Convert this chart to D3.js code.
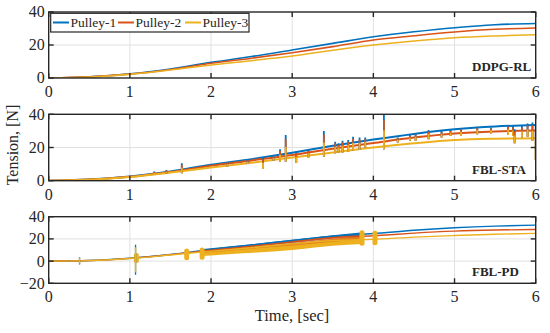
<!DOCTYPE html>
<html lang="en">
<head>
<meta charset="utf-8">
<script src="https://d3js.org/d3.v7.min.js"></script>
<style>
  body { margin: 0; background: #fff; }
  svg, svg text { font-family: "Times New Roman", "Liberation Serif", Tinos, serif; }
  text { fill: #262626; }
</style>
</head>
<body>
<script>
// Time samples shared by all smooth curves.
var times = [0, 0.5, 1, 1.5, 2, 2.5, 3, 3.5, 4, 4.5, 5, 5.5, 6];
var xTicks = [0, 1, 2, 3, 4, 5, 6];
var seriesNames = ["Pulley-1", "Pulley-2", "Pulley-3"];
var colors = ["#0072BD", "#D95319", "#EDB120"];

// DDPG-RL tensions.
var ddpg1 = [0, 0.7, 2.5, 5.5, 9.5, 13, 17, 21, 25, 28, 30.5, 32.3, 33];
var ddpg2 = [0, 0.7, 2.4, 5.2, 8.9, 12, 15.3, 19, 23, 25.6, 27.9, 29.5, 30.3];
var ddpg3 = [0, 0.6, 2.2, 4.8, 7.9, 10.5, 13.3, 16.8, 20, 22.4, 24.4, 25.5, 26.2];

// FBL-STA tensions and the spikes on them.
var sta1 = [0, 0.7, 2.6, 5.6, 9.6, 13, 16.8, 21, 24.8, 28.2, 31, 32.7, 33.5];
var sta2 = [0, 0.7, 2.4, 5.3, 9, 12.2, 15.5, 19.3, 22.7, 26, 28.5, 29.7, 30.2];
var sta3 = [0, 0.6, 2.2, 4.9, 8, 10.8, 14, 17, 20, 22.5, 24.5, 25.3, 25.6];
var staSpikeT  = [1.3, 1.45, 1.64, 2.2, 2.45, 2.64, 2.77, 2.85, 2.92, 3.05, 3.2, 3.39, 3.53, 3.57, 3.62, 3.69, 3.75, 3.83, 3.9, 4.13, 4.3, 4.45, 4.52, 4.68, 4.84, 4.95, 5.08, 5.28, 5.45, 5.66, 5.72, 5.74, 5.83, 5.9, 5.96, 6.0];
var staSpikeLo = [3.5, 4.2, 4.5, 8.5, 10, 7, 12, 11.4, 11.5, 10.7, 14, 14.5, 16.5, 17, 17, 17.5, 18, 18.5, 20, 19, 23, 24, 24, 25, 26, 27, 27, 28, 28.5, 27.5, 27, 22.5, 26, 26.5, 24, 12.5];
var staSpikeHi = [5.5, 6.5, 10.5, 11, 12.5, 14, 15, 19, 27.5, 17.5, 18.5, 30, 23.5, 22.5, 24, 24.5, 26.5, 26, 26, 39.6, 26, 27.5, 28.5, 30.5, 30, 30.5, 31.5, 32.5, 32, 33.5, 33, 31, 33, 34.5, 35, 33];

// FBL-PD tensions, oscillation bands, spikes and blobs.
var pd1 = [0, 0.5, 2.6, 6, 10.5, 14.5, 18.5, 22.5, 24.8, 27.8, 30, 31.5, 32.4];
var pd2 = [0, 0.5, 2.5, 5.8, 9.8, 13.5, 17.3, 21, 22.8, 25.2, 27, 28, 28.5];
var pd3 = [0, 0.4, 2.3, 5.5, 9, 12, 15.5, 18.5, 19.6, 21.6, 23, 24.2, 25];
var bandT   = [1.9, 2.4, 3.0, 3.5, 3.87];
var band1Lo = [9.5, 12.5, 16.5, 20.5, 23];
var band1Hi = [11, 14.5, 19.2, 23.3, 26];
var band2Lo = [7.5, 10.5, 14, 17.5, 20];
var band2Hi = [10.5, 14, 18.3, 22.3, 25];
var band3Lo = [4.5, 7, 10, 13.8, 15.5];
var band3Hi = [9.5, 12.5, 16, 20, 23];
var pdSpikeT  = [0.25, 0.38, 1.07];
var pdSpikeLo = [-0.8, -3, -12.3];
var pdSpikeHi = [1, 3.5, 14.7];
var pdBlobT  = [1.08, 1.7, 1.89, 3.86, 4.02];
var pdBlobLo = [0.5, 3, 3.5, 16, 16.5];
var pdBlobHi = [5, 9, 10, 25.5, 25];

var W = 550, H = 333;
var svg = d3.select("body").append("svg").attr("width", W).attr("height", H);

var x = d3.scaleLinear().domain([0, 6]).range([48.7, 535.7]);

var panels = [
  { id: "p1", top: 12, bottom: 78, domain: [0, 40], ticks: [0, 20, 40], label: "DDPG-RL",
    lines: [ddpg1, ddpg2, ddpg3], width: 1.6 },
  { id: "p2", top: 114.3, bottom: 180.7, domain: [0, 40], ticks: [0, 20, 40], label: "FBL-STA",
    lines: [sta1, sta2, sta3], width: 2 },
  { id: "p3", top: 216.7, bottom: 283.3, domain: [-20, 40], ticks: [-20, 0, 20, 40], label: "FBL-PD",
    lines: [pd1, pd2, pd3], width: 1.4 }
];

var lineGen = d3.line().curve(d3.curveMonotoneX);

panels.forEach(function(p) {
  var y = d3.scaleLinear().domain(p.domain).range([p.bottom, p.top]);
  var g = svg.append("g");

  // grid
  g.selectAll(".gx").data(xTicks.slice(1, -1)).enter().append("line")
    .attr("x1", function(d) { return x(d); }).attr("x2", function(d) { return x(d); })
    .attr("y1", p.top).attr("y2", p.bottom)
    .attr("stroke", "#e1e1e1").attr("stroke-width", 1);
  g.selectAll(".gy").data(p.ticks.slice(1, -1)).enter().append("line")
    .attr("x1", x(0)).attr("x2", x(6))
    .attr("y1", function(d) { return y(d); }).attr("y2", function(d) { return y(d); })
    .attr("stroke", "#e1e1e1").attr("stroke-width", 1);

  // clip
  svg.append("clipPath").attr("id", "clip-" + p.id).append("rect")
    .attr("x", x(0)).attr("y", p.top).attr("width", x(6) - x(0)).attr("height", p.bottom - p.top);
  var plot = g.append("g").attr("clip-path", "url(#clip-" + p.id + ")");

  // FBL-PD oscillation bands sit under the lines
  if (p.id === "p3") {
    var bands = [[band1Lo, band1Hi], [band3Lo, band3Hi], [band2Lo, band2Hi]];
    var bandColors = [colors[0], colors[2], colors[1]];
    bands.forEach(function(b, k) {
      var area = d3.area().curve(d3.curveMonotoneX)
        .x(function(d, i) { return x(bandT[i]); })
        .y0(function(d, i) { return y(b[0][i]); })
        .y1(function(d, i) { return y(b[1][i]); });
      plot.append("path").datum(bandT).attr("d", area)
        .attr("fill", bandColors[k]).attr("fill-opacity", k === 2 ? 0.55 : 1)
        .attr("stroke", "none");
    });
  }

  p.lines.forEach(function(vals, k) {
    plot.append("path")
      .attr("d", lineGen(times.map(function(t, i) { return [x(t), y(vals[i])]; })))
      .attr("fill", "none").attr("stroke", colors[k]).attr("stroke-width", p.width);
  });

  if (p.id === "p2") {
    staSpikeT.forEach(function(t, i) {
      var lo = staSpikeLo[i], hi = staSpikeHi[i], r = hi - lo;
      var segs = [[lo, hi], [lo, hi - 0.15 * r], [lo, hi - 0.45 * r]];
      segs.forEach(function(s, k) {
        plot.append("line").attr("x1", x(t)).attr("x2", x(t))
          .attr("y1", y(s[0])).attr("y2", y(s[1]))
          .attr("stroke", colors[k]).attr("stroke-width", 1.8);
      });
    });
  }

  if (p.id === "p3") {
    pdBlobT.forEach(function(t, i) {
      plot.append("line").attr("x1", x(t)).attr("x2", x(t))
        .attr("y1", y(pdBlobLo[i])).attr("y2", y(pdBlobHi[i]))
        .attr("stroke", colors[2]).attr("stroke-width", 5).attr("stroke-linecap", "round");
    });
    pdSpikeT.forEach(function(t, i) {
      plot.append("line").attr("x1", x(t)).attr("x2", x(t))
        .attr("y1", y(pdSpikeLo[i])).attr("y2", y(pdSpikeHi[i]))
        .attr("stroke", colors[0]).attr("stroke-width", 1.3);
      var r = pdSpikeHi[i] - pdSpikeLo[i];
      plot.append("line").attr("x1", x(t)).attr("x2", x(t))
        .attr("y1", y(pdSpikeLo[i] + 0.08 * r)).attr("y2", y(pdSpikeHi[i] - 0.08 * r))
        .attr("stroke", colors[2]).attr("stroke-width", 1.5);
    });
  }

  // frame
  g.append("rect").attr("x", x(0)).attr("y", p.top)
    .attr("width", x(6) - x(0)).attr("height", p.bottom - p.top)
    .attr("fill", "none").attr("stroke", "#262626").attr("stroke-width", 1.4);

  // inward ticks on all sides
  var tl = 5;
  xTicks.forEach(function(t) {
    g.append("line").attr("x1", x(t)).attr("x2", x(t)).attr("y1", p.bottom).attr("y2", p.bottom - tl)
      .attr("stroke", "#262626").attr("stroke-width", 1.4);
    g.append("line").attr("x1", x(t)).attr("x2", x(t)).attr("y1", p.top).attr("y2", p.top + tl)
      .attr("stroke", "#262626").attr("stroke-width", 1.4);
  });
  p.ticks.forEach(function(v) {
    g.append("line").attr("x1", x(0)).attr("x2", x(0) + tl).attr("y1", y(v)).attr("y2", y(v))
      .attr("stroke", "#262626").attr("stroke-width", 1.4);
    g.append("line").attr("x1", x(6)).attr("x2", x(6) - tl).attr("y1", y(v)).attr("y2", y(v))
      .attr("stroke", "#262626").attr("stroke-width", 1.4);
  });

  // tick labels
  g.selectAll(".xl").data(xTicks).enter().append("text")
    .attr("x", function(d) { return x(d); }).attr("y", p.bottom + 19)
    .attr("text-anchor", "middle").attr("font-size", 16)
    .text(function(d) { return d; });
  g.selectAll(".yl").data(p.ticks).enter().append("text")
    .attr("x", x(0) - 4).attr("y", function(d) { return y(d); })
    .attr("dy", "0.34em").attr("text-anchor", "end").attr("font-size", 16)
    .text(function(d) { return d < 0 ? "\u2212" + Math.abs(d) : d; });

  // panel label
  g.append("text").attr("x", 472).attr("y", p.bottom - 7)
    .attr("font-size", 13).attr("font-weight", "bold").attr("fill", "#111")
    .text(p.label);
});

// legend in top panel
var leg = svg.append("g");
leg.append("rect").attr("x", 50.7).attr("y", 13.3).attr("width", 198.3).attr("height", 18.7)
  .attr("fill", "#fff").attr("stroke", "#262626").attr("stroke-width", 1.2);
var legX = [53, 118, 185];
seriesNames.forEach(function(name, k) {
  leg.append("line").attr("x1", legX[k]).attr("x2", legX[k] + 16).attr("y1", 22.5).attr("y2", 22.5)
    .attr("stroke", colors[k]).attr("stroke-width", 2);
  leg.append("text").attr("x", legX[k] + 17.5).attr("y", 27.3).attr("font-size", 13.5).text(name);
});

// axis titles
svg.append("text").attr("x", 292).attr("y", 320.5).attr("text-anchor", "middle")
  .attr("font-size", 16.5).text("Time, [sec]");
svg.append("text").attr("transform", "translate(17.5,145) rotate(-90)")
  .attr("text-anchor", "middle").attr("font-size", 16).text("Tension, [N]");
</script>
</body>
</html>
